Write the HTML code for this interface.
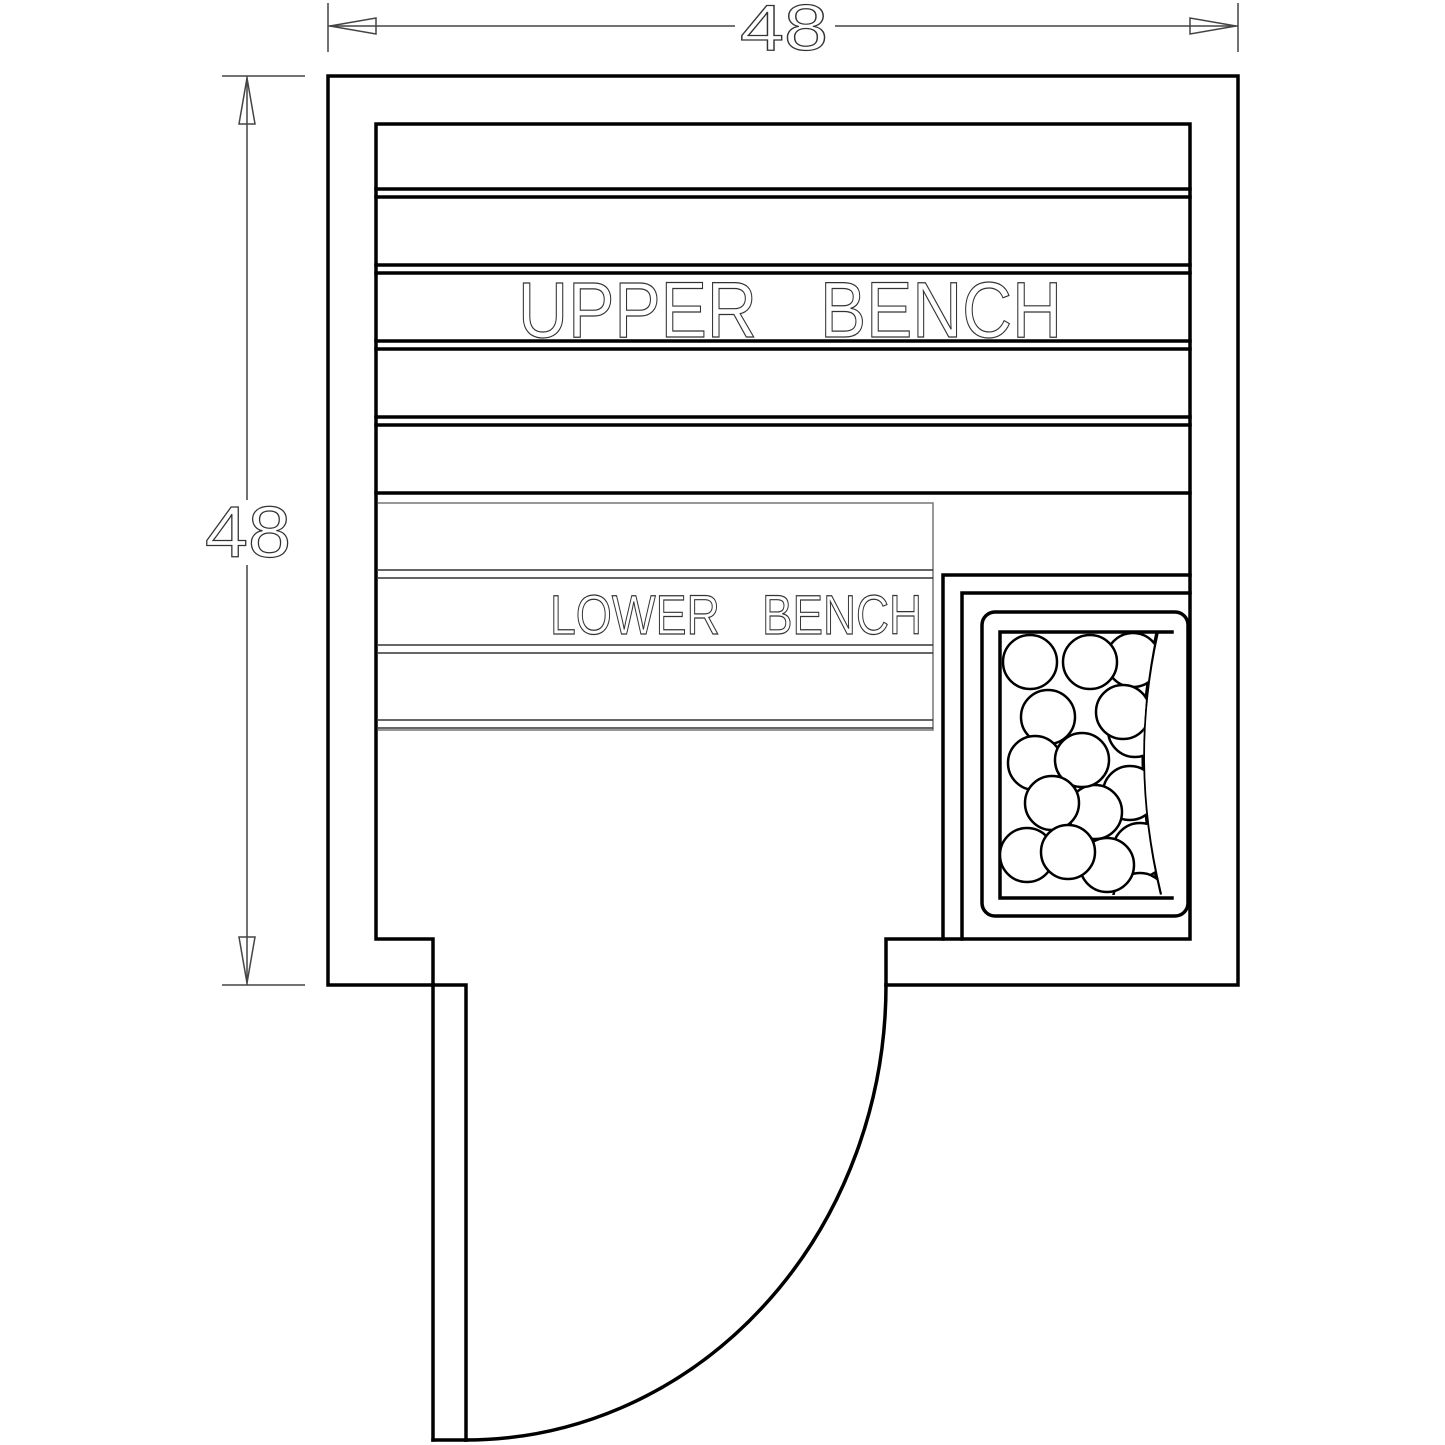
<!DOCTYPE html>
<html><head><meta charset="utf-8"><style>html,body{margin:0;padding:0;background:#fff}svg{display:block}</style></head>
<body>
<svg width="1445" height="1445" viewBox="0 0 1445 1445" xmlns="http://www.w3.org/2000/svg">
<g fill="none" stroke="#000" stroke-width="3.5" stroke-linecap="square">
<path d="M433 985 H328 V76 H1238 V985 H886"/>
<path d="M433 985 H466 V1440"/>
<path d="M433 1440 V939 H376 V124 H1190 V939 H886 V985"/>
<path d="M433 1440 H466"/>
<path d="M886 985 A420 455 0 0 1 466 1440"/>
<path d="M376 189 H1190 M376 197 H1190 M376 265 H1190 M376 273 H1190 M376 341 H1190 M376 349 H1190 M376 417 H1190 M376 425 H1190 M376 493 H1190"/>
<path d="M943 939 V575 H1190 M962 939 V593 H1190"/>
<rect x="982" y="612" width="206" height="304" rx="13"/>
<path d="M1172 632 H1000 V898 H1172"/>
<path d="M1157 633 Q1128 762 1160 893"/>
</g>
<defs><clipPath id="c"><path d="M1000 630 H1157 Q1128 762 1160 895 H1000 Z"/></clipPath></defs>
<g fill="#fff" stroke="#000" stroke-width="2.5" clip-path="url(#c)">
<circle cx="1133" cy="660" r="27"/><circle cx="1130" cy="793" r="27"/><circle cx="1140" cy="850" r="27"/><circle cx="1135" cy="730" r="27"/><circle cx="1140" cy="900" r="27"/>
<circle cx="1123" cy="712" r="27"/>
<circle cx="1030" cy="662" r="27"/><circle cx="1090" cy="662" r="27"/>
<circle cx="1048" cy="717" r="27"/>
<circle cx="1095" cy="812" r="27"/>
<circle cx="1035" cy="763" r="27"/><circle cx="1082" cy="760" r="27"/>
<circle cx="1052" cy="803" r="27"/>
<circle cx="1107" cy="865" r="27"/>
<circle cx="1027" cy="855" r="27"/><circle cx="1068" cy="852" r="27"/>
</g>
<g fill="none" stroke="#777" stroke-width="1.5">
<path d="M378 503 H933 V730 H378"/>
<path d="M378 570 H933 M378 578 H933 M378 645 H933 M378 653 H933 M378 720 H933 M378 728 H933" stroke="#333"/>
</g>
<g fill="none" stroke="#444" stroke-width="1.5">
<path d="M328 3 V52 M1238 3 V52 M328 26 H735 M835 26 H1238"/>
<path d="M330 26 L376 18 V34 Z M1236 26 L1190 18 V34 Z"/>
<path d="M222 76 H305 M222 985 H305 M247 76 V500 M247 565 V985"/>
<path d="M247 78 L239 124 H255 Z M247 983 L239 937 H255 Z"/>
</g>
<g font-family="Liberation Sans, sans-serif" fill="none" stroke="#333" stroke-width="1.2">
<text x="740" y="50" font-size="65" textLength="88" lengthAdjust="spacingAndGlyphs">48</text>
<text x="205" y="557" font-size="72" textLength="86" lengthAdjust="spacingAndGlyphs">48</text>
<text x="518" y="337" font-size="79" textLength="239" lengthAdjust="spacingAndGlyphs">UPPER</text>
<text x="820" y="337" font-size="79" textLength="242" lengthAdjust="spacingAndGlyphs">BENCH</text>
<text x="550" y="634" font-size="56" textLength="170" lengthAdjust="spacingAndGlyphs">LOWER</text>
<text x="762" y="634" font-size="56" textLength="160" lengthAdjust="spacingAndGlyphs">BENCH</text>
</g>
</svg>
</body></html>
